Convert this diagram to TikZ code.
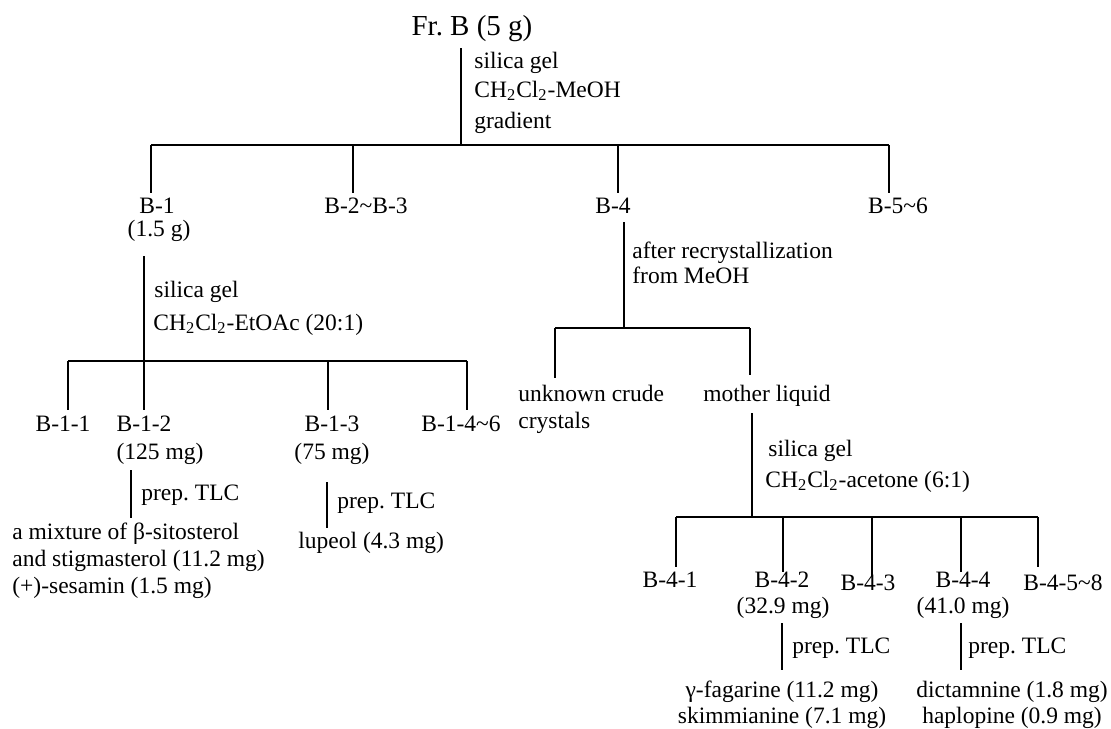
\documentclass[tikz,border=0pt]{standalone}
\usepackage{fontspec}
\setmainfont{Liberation Serif}
\newcommand\mainsz{\fontsize{11.75}{14}\selectfont}
\newcommand\titlesz{\fontsize{14.5}{17}\selectfont}
\begin{document}
\begin{tikzpicture}[x=0.5pt,y=-0.5pt,
  ln/.style={line width=0.75pt, line cap=butt},
  ctr/.style={anchor=base, inner sep=0pt, font=\mainsz},
  lft/.style={anchor=base west, inner sep=0pt, font=\mainsz},
  ttl/.style={anchor=base, inner sep=0pt, font=\titlesz}]
\useasboundingbox (0,0) rectangle (1111,728);

% ---------- root ----------
\node[ttl] (fr) at (472,35) {Fr.\ B (5 g)};
\coordinate (r0) at (461,48);
\coordinate (r1) at (461,145);
\draw[ln] (r0) -- (r1);
\node[lft] (s0a) at (474,68) {silica gel};
\node[lft] (s0b) at (474,97) {CH\textsubscript{2}Cl\textsubscript{2}-MeOH};
\node[lft] (s0c) at (474,128) {gradient};

% ---------- level 1 ----------
\coordinate (k1) at (151,145); \coordinate (k2) at (353,145);
\coordinate (k3) at (618,145); \coordinate (k4) at (889,145);
\coordinate (k1e) at (151,193); \coordinate (k2e) at (353,193);
\coordinate (k3e) at (618,193); \coordinate (k4e) at (889,193);
\draw[ln] (k1) -- (k4);
\draw[ln] (k1) -- (k1e) (k2) -- (k2e) (k3) -- (k3e) (k4) -- (k4e);

\node[ctr] (B1)  at (157,213) {B-1};
\node[ctr] (B1m) at (159,236) {(1.5 g)};
\node[ctr] (B23) at (366,213) {B-2\textasciitilde B-3};
\node[ctr] (B4)  at (613,213) {B-4};
\node[ctr] (B56) at (898,213) {B-5\textasciitilde 6};

% ---------- B-1 branch ----------
\coordinate (p1t) at (144,256); \coordinate (p1b) at (144,361);
\draw[ln] (p1t) -- (p1b);
\node[lft] (s1a) at (154,297) {silica gel};
\node[lft] (s1b) at (153,330) {CH\textsubscript{2}Cl\textsubscript{2}-EtOAc (20:1)};
\coordinate (m1) at (68,361);  \coordinate (m3) at (328,361); \coordinate (m4) at (467,361);
\coordinate (m1e) at (68,410); \coordinate (m2e) at (144,410);
\coordinate (m3e) at (328,410); \coordinate (m4e) at (467,410);
\draw[ln] (m1) -- (m4);
\draw[ln] (m1) -- (m1e) (p1b) -- (m2e) (m3) -- (m3e) (m4) -- (m4e);

\node[ctr] (B11)  at (63,431)  {B-1-1};
\node[ctr] (B12)  at (144,431) {B-1-2};
\node[ctr] (B12m) at (160,459) {(125 mg)};
\node[ctr] (B13)  at (332,431) {B-1-3};
\node[ctr] (B13m) at (332,459) {(75 mg)};
\node[ctr] (B146) at (461,431) {B-1-4\textasciitilde 6};

\coordinate (q1t) at (131,470); \coordinate (q1b) at (131,518);
\draw[ln] (q1t) -- (q1b);
\node[lft] (t1) at (141,500) {prep.\ TLC};
\coordinate (q2t) at (327,482); \coordinate (q2b) at (327,528);
\draw[ln] (q2t) -- (q2b);
\node[lft] (t2) at (337,508) {prep.\ TLC};

\node[lft] (R1a) at (12,539) {a mixture of β-sitosterol};
\node[lft] (R1b) at (12,566) {and stigmasterol (11.2 mg)};
\node[lft] (R1c) at (12,593) {(+)-sesamin (1.5 mg)};
\node[lft] (R2)  at (298,548) {lupeol (4.3 mg)};

% ---------- B-4 branch ----------
\coordinate (p4t) at (624,222); \coordinate (p4b) at (624,328);
\draw[ln] (p4t) -- (p4b);
\node[lft] (s4a) at (632,258) {after recrystallization};
\node[lft] (s4b) at (632,283) {from MeOH};
\coordinate (n1) at (555,328); \coordinate (n2) at (750,328);
\coordinate (n1e) at (555,378); \coordinate (n2e) at (750,375);
\draw[ln] (n1) -- (n2);
\draw[ln] (n1) -- (n1e) (n2) -- (n2e);
\node[lft] (UC1) at (518,401) {unknown crude};
\node[lft] (UC2) at (518,428) {crystals};
\node[lft] (ML)  at (703,401) {mother liquid};

\coordinate (p5t) at (752,413); \coordinate (p5b) at (752,517);
\draw[ln] (p5t) -- (p5b);
\node[lft] (s5a) at (768,456) {silica gel};
\node[lft] (s5b) at (765,487) {CH\textsubscript{2}Cl\textsubscript{2}-acetone (6:1)};

\coordinate (u1) at (676,517); \coordinate (u2) at (783,517); \coordinate (u3) at (872,517);
\coordinate (u4) at (961,517); \coordinate (u5) at (1038,517);
\coordinate (u1e) at (676,567); \coordinate (u2e) at (783,572); \coordinate (u3e) at (872,577);
\coordinate (u4e) at (961,572); \coordinate (u5e) at (1038,567);
\draw[ln] (u1) -- (u5);
\draw[ln] (u1) -- (u1e) (u2) -- (u2e) (u3) -- (u3e) (u4) -- (u4e) (u5) -- (u5e);

\node[ctr] (B41)  at (670,587)  {B-4-1};
\node[ctr] (B42)  at (782,587)  {B-4-2};
\node[ctr] (B42m) at (783,613)  {(32.9 mg)};
\node[ctr] (B43)  at (868,590)  {B-4-3};
\node[ctr] (B44)  at (963,587)  {B-4-4};
\node[ctr] (B44m) at (963,613)  {(41.0 mg)};
\node[ctr] (B458) at (1063,590) {B-4-5\textasciitilde 8};

\coordinate (v1t) at (782,623); \coordinate (v1b) at (782,670);
\draw[ln] (v1t) -- (v1b);
\node[lft] (t3) at (792,653) {prep.\ TLC};
\coordinate (v2t) at (961,623); \coordinate (v2b) at (961,670);
\draw[ln] (v2t) -- (v2b);
\node[lft] (t4) at (968,653) {prep.\ TLC};

\node[ctr] (R3a) at (782,697)  {γ-fagarine (11.2 mg)};
\node[ctr] (R3b) at (782,723)  {skimmianine (7.1 mg)};
\node[ctr] (R4a) at (1012,697) {dictamnine (1.8 mg)};
\node[ctr] (R4b) at (1012,723) {haplopine (0.9 mg)};
\end{tikzpicture}
\end{document}
